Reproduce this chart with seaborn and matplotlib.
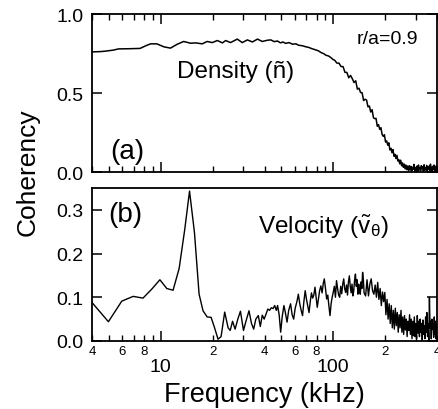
import numpy as np
import pandas as pd
import matplotlib
matplotlib.use('Agg')
import matplotlib.pyplot as plt
import seaborn as sns
from matplotlib.ticker import FixedLocator, FixedFormatter, FuncFormatter, NullLocator

sns.set_theme(style='ticks', rc={'axes.edgecolor': 'black', 'xtick.color': 'black',
                                 'ytick.color': 'black', 'text.color': 'black',
                                 'axes.labelcolor': 'black'})
plt.rcParams['font.family'] = ['Liberation Sans', 'DejaVu Sans']
plt.rcParams['mathtext.fontset'] = 'custom'
plt.rcParams['mathtext.rm'] = 'Liberation Sans'
plt.rcParams['mathtext.it'] = 'Liberation Sans:italic'
plt.rcParams['mathtext.bf'] = 'Liberation Sans:bold'

# ---------------- data ----------------
# Density coherency, smooth part (kHz, coherency)
den_low_freq = [4.0, 4.5, 4.8, 5.3, 5.7, 6.5, 7.6, 8.2, 8.75, 9.5, 10.45, 11.4, 12.5,
                13.6, 14.9, 16.0, 17.4, 18.6, 19.9, 21.3, 22.8, 23.8, 25.4, 27.8, 29.7,
                31.8, 34.0, 36.4, 38.8, 41.6, 43.5, 45.5, 47.5, 49.5, 51.0, 53.0, 55.5,
                58.0, 60.8, 63.0, 66.3, 69.0, 72.3, 75.0, 78.9, 82.0, 84.9, 88.0, 90.6,
                94.0, 96.6, 100.0]
den_low_val = [0.761, 0.763, 0.766, 0.772, 0.780, 0.781, 0.783, 0.800, 0.812, 0.812, 0.793,
               0.785, 0.810, 0.827, 0.816, 0.818, 0.812, 0.827, 0.820, 0.833, 0.818, 0.833,
               0.820, 0.842, 0.820, 0.837, 0.824, 0.842, 0.827, 0.835, 0.837, 0.826, 0.830,
               0.818, 0.824, 0.815, 0.820, 0.810, 0.812, 0.803, 0.800, 0.794, 0.789, 0.782,
               0.774, 0.768, 0.757, 0.750, 0.740, 0.735, 0.726, 0.712]
# Density coherency, noisy part sampled every 3 kHz from 102 kHz
den_hi_start = 102.0
den_hi_step = 3.0
den_hi_val = [0.708, 0.690, 0.690, 0.668, 0.668, 0.631, 0.631, 0.597, 0.612, 0.591,
              0.567, 0.578, 0.525, 0.531, 0.504, 0.502, 0.453, 0.461, 0.456, 0.413,
              0.418, 0.380, 0.395, 0.344, 0.338, 0.340, 0.290, 0.300, 0.270, 0.281,
              0.238, 0.226, 0.236, 0.190, 0.197, 0.170, 0.185, 0.140, 0.150, 0.122,
              0.142, 0.100, 0.112, 0.085, 0.106, 0.070, 0.078, 0.052, 0.075, 0.040,
              0.058, 0.030, 0.050, 0.020, 0.044, 0.015, 0.038, 0.010, 0.040,
              0.012, 0.036, 0.006, 0.030, 0.018, 0.048, 0.004, 0.028, 0.020, 0.038,
              0.002, 0.044, 0.014, 0.026, 0.008, 0.040, 0.022, 0.034, 0.004, 0.046,
              0.010, 0.028, 0.016, 0.042, 0.003, 0.032, 0.020, 0.038, 0.008, 0.050,
              0.012, 0.030, 0.005, 0.036, 0.018, 0.044, 0.006, 0.028, 0.015, 0.040,
              0.010]

# Velocity coherency, low/mid part (kHz, coherency)
vel_low_freq = [4.0, 4.98, 5.95, 6.93, 7.9, 8.9, 9.9, 10.85, 11.8, 12.8, 13.8, 14.7, 15.7,
                16.7, 17.6, 18.6, 19.6, 20.5, 21.5, 22.4, 23.5, 24.6, 25.3, 26.1, 27.0,
                28.0, 29.0, 30.2, 31.2, 32.5, 33.6, 34.6, 35.6, 36.8, 37.8, 38.8, 39.8,
                40.8, 41.8, 42.8, 43.8, 44.8, 45.8, 46.8, 47.6, 48.6, 49.6, 50.6, 51.8,
                52.8, 54.0, 55.2, 56.6, 57.8, 59.0, 60.2, 61.6, 62.8, 64.0, 65.2, 66.4,
                67.6, 68.8, 70.0, 71.2, 72.4, 73.6, 74.8, 76.0, 77.2, 78.4, 79.6, 80.8,
                82.0, 83.4, 84.8, 86.2, 87.6, 88.8, 90.2, 91.6, 93.0, 94.4, 95.8, 97.2,
                98.6, 100.0, 101.5, 103.0, 104.5, 106.0, 107.5, 109.0, 110.5, 112.0,
                113.5, 115.0, 116.5, 118.0, 119.5, 121.0, 122.5, 124.0, 125.5, 127.0,
                128.5, 130.0, 131.5, 133.0, 134.5, 136.0, 137.5, 139.0, 140.5, 142.0,
                143.5, 145.0, 146.5, 148.0, 149.5]
vel_low_val = [0.088, 0.044, 0.091, 0.102, 0.098, 0.119, 0.140, 0.120, 0.116, 0.166, 0.256,
               0.343, 0.248, 0.107, 0.069, 0.055, 0.054, 0.031, 0.004, 0.010, 0.066, 0.030,
               0.024, 0.045, 0.027, 0.050, 0.068, 0.024, 0.045, 0.069, 0.040, 0.027, 0.050,
               0.058, 0.033, 0.059, 0.050, 0.062, 0.073, 0.070, 0.076, 0.074, 0.081, 0.070,
               0.081, 0.060, 0.020, 0.055, 0.081, 0.065, 0.043, 0.070, 0.085, 0.060, 0.050,
               0.075, 0.090, 0.107, 0.085, 0.070, 0.058, 0.090, 0.115, 0.095, 0.080, 0.065,
               0.090, 0.110, 0.098, 0.105, 0.123, 0.100, 0.077, 0.095, 0.115, 0.126, 0.110,
               0.132, 0.142, 0.120, 0.096, 0.105, 0.080, 0.058, 0.085, 0.100, 0.111, 0.125,
               0.100, 0.138, 0.120, 0.105, 0.100, 0.125, 0.108, 0.130, 0.142, 0.120, 0.111,
               0.128, 0.105, 0.135, 0.149, 0.125, 0.110, 0.130, 0.103, 0.115, 0.140, 0.153,
               0.125, 0.140, 0.107, 0.130, 0.115, 0.107, 0.135, 0.120, 0.157, 0.140]
# Velocity coherency, noisy part sampled every 3 kHz from 151 kHz
vel_hi_start = 151.0
vel_hi_step = 3.0
vel_hi_val = [0.110, 0.103, 0.140, 0.103, 0.130, 0.142, 0.115, 0.107, 0.128, 0.100,
              0.134, 0.095, 0.120, 0.081, 0.112, 0.090, 0.111, 0.060, 0.095, 0.050,
              0.085, 0.040, 0.081, 0.030, 0.070, 0.027, 0.075, 0.035, 0.065, 0.020,
              0.060, 0.030, 0.070, 0.020, 0.055, 0.015, 0.058, 0.025, 0.050, 0.010,
              0.045, 0.024, 0.060, 0.015, 0.050, 0.005, 0.045, 0.012, 0.055, 0.010,
              0.040, 0.005, 0.058, 0.018, 0.045, 0.010, 0.050, 0.020, 0.040, 0.002,
              0.048, 0.015, 0.035, 0.005, 0.055, 0.020, 0.065, 0.010, 0.040, 0.002,
              0.100, 0.030, 0.045, 0.005, 0.050, 0.027, 0.040, 0.008, 0.055, 0.015,
              0.045, 0.005, 0.040, 0.012]

x_major = [10, 100]
x_major_labels = ['10', '100']
x_minor = [4, 5, 6, 7, 8, 9, 20, 30, 40, 50, 60, 70, 80, 90, 200, 300, 400]
x_minor_labels = {4: '4', 6: '6', 8: '8', 20: '2', 40: '4', 60: '6', 80: '8',
                  200: '2', 400: '4'}

# ---------------- build frames ----------------
den_freq = list(den_low_freq) + list(den_hi_start + den_hi_step * np.arange(len(den_hi_val)))
den_val = list(den_low_val) + list(den_hi_val)
df_den = pd.DataFrame({'freq': den_freq, 'coh': den_val})

vel_freq = list(vel_low_freq) + list(vel_hi_start + vel_hi_step * np.arange(len(vel_hi_val)))
vel_val = list(vel_low_val) + list(vel_hi_val)
df_vel = pd.DataFrame({'freq': vel_freq, 'coh': vel_val})

# ---------------- figure ----------------
fig = plt.figure(figsize=(4.38, 4.10), dpi=100)
ax1 = fig.add_axes([0.210, 0.578, 0.788, 0.385])
ax2 = fig.add_axes([0.210, 0.166, 0.788, 0.373])

sns.lineplot(data=df_den, x='freq', y='coh', ax=ax1, color='black', linewidth=1.1,
             estimator=None, sort=False, legend=False)
sns.lineplot(data=df_vel, x='freq', y='coh', ax=ax2, color='black', linewidth=1.0,
             estimator=None, sort=False, legend=False)

for ax in (ax1, ax2):
    ax.set_xscale('log')
    ax.set_xlim(4, 400)
    ax.set_xlabel('')
    ax.set_ylabel('')
    ax.xaxis.set_major_locator(FixedLocator(x_major))
    ax.xaxis.set_minor_locator(FixedLocator(x_minor))
    ax.yaxis.set_minor_locator(NullLocator())
    for s in ax.spines.values():
        s.set_linewidth(1.3)
        s.set_color('black')
    ax.tick_params(axis='y', which='major', direction='in', length=7, width=1.1,
                   labelsize=14, pad=6, right=True, left=True)

ax1.set_ylim(0, 1.0)
ax1.set_yticks([0.0, 0.5, 1.0])
ax1.yaxis.set_major_formatter(FuncFormatter(lambda v, p: f'{v:.1f}'))
ax1.tick_params(axis='x', which='major', direction='in', length=7, width=1.1,
                top=True, bottom=True, labelbottom=False)
ax1.tick_params(axis='x', which='minor', direction='in', length=4, width=1.0,
                top=True, bottom=True, labelbottom=False)

ax2.set_ylim(0, 0.35)
ax2.set_yticks([0.0, 0.1, 0.2, 0.3])
ax2.yaxis.set_major_formatter(FuncFormatter(lambda v, p: f'{v:.1f}'))
ax2.xaxis.set_major_formatter(FixedFormatter(x_major_labels))
ax2.xaxis.set_minor_formatter(FuncFormatter(lambda v, p: x_minor_labels.get(int(round(v)), '')))
ax2.tick_params(axis='x', which='major', direction='in', length=7, width=1.1,
                top=False, bottom=True, labelsize=14, pad=12)
ax2.tick_params(axis='x', which='minor', direction='in', length=4, width=1.0,
                top=False, bottom=True, labelsize=9.5, pad=3)

# ---------------- texts ----------------
fig.text(0.062, 1 - 172 / 410, 'Coherency', rotation=90, ha='center', va='center', fontsize=19)
fig.text(0.603, 1 - 395 / 410, 'Frequency (kHz)', ha='center', va='center', fontsize=19.5)
fig.text(110 / 438, 1 - 152 / 410, '(a)', ha='left', va='center', fontsize=20)
fig.text(108 / 438, 1 - 215 / 410, '(b)', ha='left', va='center', fontsize=20)
fig.text(177 / 438, 1 - 72 / 410, 'Density (ñ)', ha='left', va='center', fontsize=17.5)
fig.text(357 / 438, 1 - 40 / 410, 'r/a=0.9', ha='left', va='center', fontsize=14)
fig.text(258 / 438, 1 - 227 / 410, r'Velocity ($\tilde{\mathrm{v}}_{\mathrm{\theta}}$)',
         ha='left', va='center', fontsize=17.5)

fig.savefig('out.png', dpi=100)
